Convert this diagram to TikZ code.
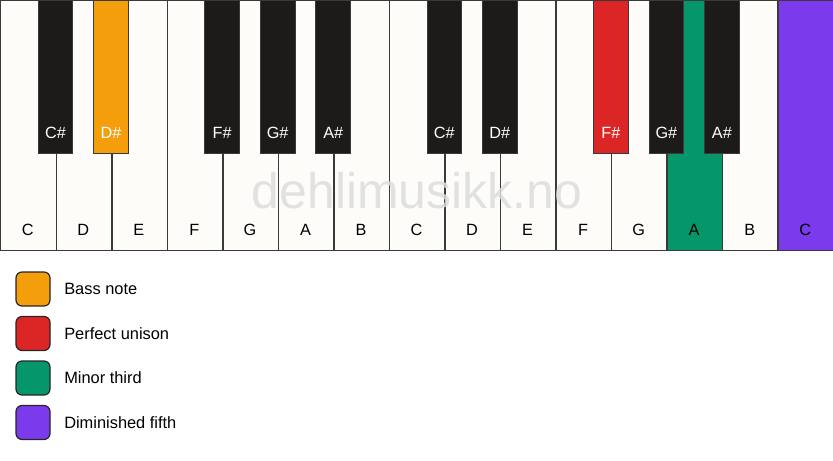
\documentclass[tikz,border=0pt]{standalone}
\usepackage{fontspec}
\setmainfont{Liberation Sans}
\definecolor{keywhite}{HTML}{FDFCF9}
\definecolor{keyblack}{HTML}{1C1B19}
\definecolor{keyline}{HTML}{3A3A3A}
\definecolor{bassc}{HTML}{F59E0B}
\definecolor{unisonc}{HTML}{DC2626}
\definecolor{thirdc}{HTML}{059669}
\definecolor{fifthc}{HTML}{7C3AED}
\definecolor{markc}{HTML}{DDDDDD}
\begin{document}
\begin{tikzpicture}[x=0.75pt,y=-0.75pt,
  whitekey/.style={draw=keyline,line width=1.1pt,fill=keywhite,anchor=north west,inner sep=0pt,minimum width=41.65pt,minimum height=187.5pt},
  blackkey/.style={draw=keyline,line width=0.6pt,fill=keyblack,anchor=north,inner sep=0pt,minimum width=26pt,minimum height=114.75pt},
  wlabel/.style={font=\fontsize{12.2pt}{14pt}\selectfont,text=black},
  blabel/.style={font=\fontsize{12.2pt}{14pt}\selectfont,text=white},
  legbox/.style={draw=black!85,line width=0.9pt,rounded corners=4.5pt,minimum width=25.5pt,minimum height=25.5pt,inner sep=0pt},
  legtext/.style={font=\fontsize{12.3pt}{14pt}\selectfont,anchor=west,inner sep=0pt}]
\useasboundingbox (0,0) rectangle (833,461);
% white keys
\foreach \i/\n/\c in {0/C/keywhite,1/D/keywhite,2/E/keywhite,3/F/keywhite,4/G/keywhite,5/A/keywhite,6/B/keywhite,7/C/keywhite,8/D/keywhite,9/E/keywhite,10/F/keywhite,11/G/keywhite,12/A/thirdc,13/B/keywhite,14/C/fifthc}{
  \node[whitekey,fill=\c] (w\i) at ({55.533*\i},0) {};
  \node[wlabel] (wl\i) at ({55.533*\i+27.77},230) {\n};
}
% black keys
\foreach \i/\n/\c in {0/C\#/keyblack,1/D\#/bassc,3/F\#/keyblack,4/G\#/keyblack,5/A\#/keyblack,7/C\#/keyblack,8/D\#/keyblack,10/F\#/unisonc,11/G\#/keyblack,12/A\#/keyblack}{
  \node[blackkey,fill=\c] (b\i) at ({55.533*(\i+1)},0) {};
  \node[blabel] (bl\i) at ({55.533*(\i+1)},133) {\n};
}
% watermark
\node[font=\fontsize{37.5pt}{42pt}\selectfont,text=markc,opacity=0.85] (mark) at (417,191) {dehlimusikk.no};
% legend
\node[legbox,fill=bassc] (lg1) at (33,289) {};
\node[legtext] (lt1) at (64,289) {Bass note};
\node[legbox,fill=unisonc] (lg2) at (33,333.5) {};
\node[legtext] (lt2) at (64,333.5) {Perfect unison};
\node[legbox,fill=thirdc] (lg3) at (33,378) {};
\node[legtext] (lt3) at (64,378) {Minor third};
\node[legbox,fill=fifthc] (lg4) at (33,422.5) {};
\node[legtext] (lt4) at (64,422.5) {Diminished fifth};
\end{tikzpicture}
\end{document}
